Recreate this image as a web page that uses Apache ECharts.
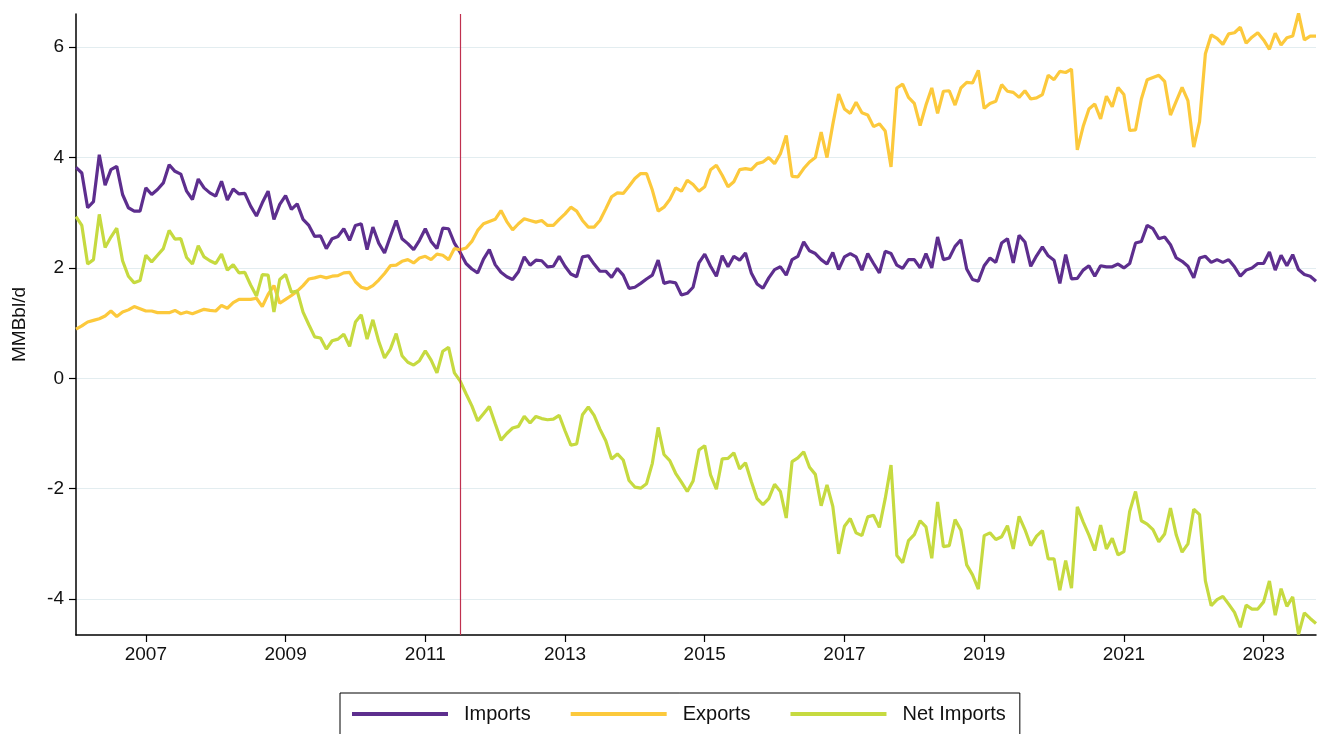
<!DOCTYPE html>
<html>
<head>
<meta charset="utf-8">
<title>Imports / Exports / Net Imports</title>
<script src="https://cdn.jsdelivr.net/npm/echarts@6/dist/echarts.min.js"></script>
<style>
	html, body { margin: 0; padding: 0; background: #fff; }
	#main { width: 1320px; height: 734px; }
</style>
</head>
<body>
<div id="main"></div>
<script>
// monthly, Jan 2006 .. Oct 2023 (MMBbl/d)
var imports = [
	3.82, 3.72, 3.09, 3.2, 4.05, 3.5, 3.78, 3.84, 3.33, 3.09,
	3.03, 3.03, 3.45, 3.33, 3.42, 3.54, 3.87, 3.75, 3.7, 3.39,
	3.24, 3.61, 3.45, 3.36, 3.3, 3.57, 3.23, 3.43, 3.34, 3.35,
	3.12, 2.94, 3.18, 3.39, 2.88, 3.15, 3.31, 3.06, 3.16, 2.88,
	2.77, 2.57, 2.58, 2.35, 2.53, 2.57, 2.71, 2.5, 2.77, 2.8,
	2.33, 2.74, 2.45, 2.27, 2.57, 2.86, 2.53, 2.44, 2.33, 2.5,
	2.71, 2.48, 2.35, 2.72, 2.71, 2.45, 2.28, 2.08, 1.98, 1.91,
	2.16, 2.33, 2.06, 1.92, 1.84, 1.79, 1.93, 2.2, 2.05, 2.14,
	2.13, 2.02, 2.03, 2.21, 2.03, 1.89, 1.84, 2.2, 2.22, 2.07,
	1.94, 1.94, 1.83, 1.99, 1.87, 1.63, 1.65, 1.72, 1.8, 1.87,
	2.14, 1.72, 1.75, 1.73, 1.51, 1.54, 1.65, 2.09, 2.25, 2.03,
	1.85, 2.22, 2.02, 2.21, 2.14, 2.27, 1.91, 1.71, 1.63, 1.82,
	1.97, 2.02, 1.87, 2.15, 2.21, 2.47, 2.31, 2.26, 2.15, 2.07,
	2.28, 1.97, 2.2, 2.26, 2.2, 1.96, 2.26, 2.08, 1.91, 2.3,
	2.26, 2.05, 1.99, 2.15, 2.15, 2.0, 2.26, 2.0, 2.56, 2.15,
	2.18, 2.39, 2.51, 1.98, 1.79, 1.76, 2.04, 2.18, 2.1, 2.45,
	2.53, 2.09, 2.59, 2.47, 2.03, 2.22, 2.38, 2.22, 2.14, 1.72,
	2.24, 1.8, 1.81, 1.96, 2.04, 1.85, 2.04, 2.02, 2.02, 2.07,
	2.0, 2.08, 2.45, 2.48, 2.77, 2.71, 2.53, 2.56, 2.42, 2.18,
	2.12, 2.03, 1.82, 2.18, 2.21, 2.1, 2.15, 2.1, 2.15, 2.02,
	1.85, 1.96, 2.0, 2.08, 2.08, 2.29, 1.96, 2.23, 2.04, 2.24,
	1.97, 1.88, 1.85, 1.76
];
var exports = [
	0.89, 0.95, 1.02, 1.05, 1.08, 1.13, 1.22, 1.12, 1.2, 1.24,
	1.3, 1.26, 1.22, 1.22, 1.19, 1.19, 1.19, 1.23, 1.17, 1.2,
	1.17, 1.21, 1.25, 1.23, 1.22, 1.32, 1.27, 1.37, 1.43, 1.43,
	1.43, 1.45, 1.3, 1.52, 1.68, 1.36, 1.43, 1.5, 1.58, 1.68,
	1.8, 1.82, 1.85, 1.82, 1.85, 1.86, 1.91, 1.92, 1.75, 1.65,
	1.62, 1.68, 1.78, 1.9, 2.04, 2.05, 2.12, 2.15, 2.09, 2.18,
	2.21, 2.15, 2.25, 2.23, 2.15, 2.35, 2.33, 2.36, 2.48, 2.68,
	2.8, 2.84, 2.88, 3.04, 2.84, 2.69, 2.8, 2.89, 2.86, 2.83,
	2.86, 2.77, 2.77, 2.88, 2.98, 3.1, 3.03, 2.86, 2.74, 2.74,
	2.86, 3.07, 3.29, 3.36, 3.35, 3.48, 3.62, 3.71, 3.71, 3.41,
	3.03, 3.1, 3.24, 3.45, 3.39, 3.59, 3.51, 3.39, 3.47, 3.78,
	3.86, 3.68, 3.47, 3.56, 3.78, 3.8, 3.78, 3.89, 3.92, 4.0,
	3.89, 4.07, 4.4, 3.66, 3.65, 3.8, 3.92, 4.0, 4.46, 4.0,
	4.6, 5.15, 4.88, 4.8, 5.0, 4.81, 4.77, 4.56, 4.61, 4.48,
	3.83, 5.26, 5.33, 5.09, 4.98, 4.58, 4.95, 5.26, 4.8, 5.2,
	5.21, 4.95, 5.26, 5.36, 5.35, 5.58, 4.89, 4.98, 5.02, 5.32,
	5.2, 5.18, 5.09, 5.21, 5.06, 5.08, 5.14, 5.49, 5.41, 5.56,
	5.54, 5.6, 4.14, 4.56, 4.88, 4.97, 4.7, 5.11, 4.92, 5.27,
	5.14, 4.49, 4.5, 5.06, 5.41, 5.45, 5.49, 5.38, 4.77, 5.02,
	5.27, 5.03, 4.19, 4.65, 5.88, 6.22, 6.16, 6.05, 6.24, 6.26,
	6.36, 6.07, 6.18, 6.26, 6.13, 5.96, 6.25, 6.04, 6.17, 6.2,
	6.61, 6.13, 6.2, 6.2
];
var netImports = [
	2.93, 2.77, 2.07, 2.15, 2.97, 2.37, 2.56, 2.72, 2.13, 1.85,
	1.73, 1.77, 2.23, 2.11, 2.23, 2.35, 2.68, 2.52, 2.53, 2.19,
	2.07, 2.4, 2.2, 2.13, 2.08, 2.25, 1.96, 2.06, 1.91, 1.92,
	1.69, 1.49, 1.88, 1.87, 1.2, 1.79, 1.88, 1.56, 1.58, 1.2,
	0.97, 0.75, 0.73, 0.53, 0.68, 0.71, 0.8, 0.58, 1.02, 1.15,
	0.71, 1.06, 0.67, 0.37, 0.53, 0.81, 0.41, 0.29, 0.24, 0.32,
	0.5, 0.33, 0.1, 0.49, 0.56, 0.1, -0.05, -0.28, -0.5, -0.77,
	-0.64, -0.51, -0.82, -1.12, -1.0, -0.9, -0.87, -0.69, -0.81, -0.69,
	-0.73, -0.75, -0.74, -0.67, -0.95, -1.21, -1.19, -0.66, -0.52, -0.67,
	-0.92, -1.13, -1.46, -1.37, -1.48, -1.85, -1.97, -1.99, -1.91, -1.54,
	-0.89, -1.38, -1.49, -1.72, -1.88, -2.05, -1.86, -1.3, -1.22, -1.75,
	-2.01, -1.46, -1.45, -1.35, -1.64, -1.53, -1.87, -2.18, -2.29, -2.18,
	-1.92, -2.05, -2.53, -1.51, -1.44, -1.33, -1.61, -1.74, -2.31, -1.93,
	-2.32, -3.18, -2.68, -2.54, -2.8, -2.85, -2.51, -2.48, -2.7, -2.18,
	-1.57, -3.21, -3.34, -2.94, -2.83, -2.58, -2.69, -3.26, -2.24, -3.05,
	-3.03, -2.56, -2.75, -3.38, -3.56, -3.82, -2.85, -2.8, -2.92, -2.87,
	-2.67, -3.09, -2.5, -2.74, -3.03, -2.86, -2.76, -3.27, -3.27, -3.84,
	-3.3, -3.8, -2.33, -2.6, -2.84, -3.12, -2.66, -3.09, -2.9, -3.2,
	-3.14, -2.41, -2.05, -2.58, -2.64, -2.74, -2.96, -2.82, -2.35, -2.84,
	-3.15, -3.0, -2.37, -2.47, -3.67, -4.12, -4.01, -3.95, -4.09, -4.24,
	-4.51, -4.11, -4.18, -4.18, -4.05, -3.67, -4.29, -3.81, -4.13, -3.96,
	-4.64, -4.25, -4.35, -4.44
];
var yTicks = [-4, -2, 0, 2, 4, 6];
var markMonth = '2011-07';

// month labels 2006-01 .. 2023-10
var months = [];
for (var y = 2006; y <= 2023; y++) {
	for (var m = 1; m <= 12; m++) {
		if (y == 2023 && m > 10) break;
		months.push(y + '-' + (m < 10 ? '0' + m : m));
	}
}

// label / tick only on January of odd years
function oddJan(idx, val) {
	var parts = val.split('-');
	return parts[1] == '01' && (+parts[0]) % 2 == 1;
}

var font = '"Liberation Sans", Arial, sans-serif';
var chart = echarts.init(document.getElementById('main'));

chart.setOption({
	animation : false,
	backgroundColor : '#fff',
	textStyle : { fontFamily : font },
	grid : {
		left : 76,
		right : 4,
		top : 14,
		bottom : 99
	},
	legend : {
		left : 340,
		top : 693,
		padding : [11, 14, 30, 12],
		borderColor : '#000',
		borderWidth : 1,
		icon : 'rect',
		itemWidth : 96,
		itemHeight : 4,
		itemGap : 40,
		textStyle : {
			fontSize : 20,
			color : '#111',
			fontFamily : font,
			padding : [0, 0, 0, 11]
		},
		data : ['Imports', 'Exports', 'Net Imports']
	},
	xAxis : {
		type : 'category',
		boundaryGap : false,
		data : months,
		axisLine : {
			onZero : false,
			lineStyle : { color : '#000', width : 1.5 }
		},
		axisTick : {
			interval : oddJan,
			length : 7,
			lineStyle : { color : '#000', width : 1.2 }
		},
		axisLabel : {
			interval : oddJan,
			margin : 10,
			fontSize : 19,
			color : '#111',
			formatter : function (v) { return v.split('-')[0]; }
		},
		splitLine : { show : false }
	},
	yAxis : {
		type : 'value',
		min : -4.65,
		max : 6.6,
		name : 'MMBbl/d',
		nameLocation : 'middle',
		nameGap : 47,
		nameTextStyle : { fontSize : 19, color : '#111' },
		axisLine : {
			show : true,
			lineStyle : { color : '#000', width : 1.5 }
		},
		axisTick : {
			show : true,
			customValues : yTicks,
			length : 7,
			lineStyle : { color : '#000', width : 1.2 }
		},
		axisLabel : {
			customValues : yTicks,
			margin : 12,
			fontSize : 19,
			color : '#111'
		},
		splitLine : {
			show : true,
			lineStyle : { color : '#e3edf0', width : 1.2 }
		}
	},
	series : [
		{
			name : 'Imports',
			type : 'line',
			data : imports,
			symbol : 'none',
			lineStyle : { color : '#5d2e8e', width : 3.2 },
			itemStyle : { color : '#5d2e8e' },
			markLine : {
				silent : true,
				symbol : 'none',
				label : { show : false },
				lineStyle : { color : '#c0304f', width : 1.2, type : 'solid' },
				data : [{ xAxis : markMonth }]
			}
		},
		{
			name : 'Exports',
			type : 'line',
			data : exports,
			symbol : 'none',
			lineStyle : { color : '#fcc93c', width : 3.2 },
			itemStyle : { color : '#fcc93c' }
		},
		{
			name : 'Net Imports',
			type : 'line',
			data : netImports,
			symbol : 'none',
			lineStyle : { color : '#c6da40', width : 3.2 },
			itemStyle : { color : '#c6da40' }
		}
	]
});
</script>
</body>
</html>
